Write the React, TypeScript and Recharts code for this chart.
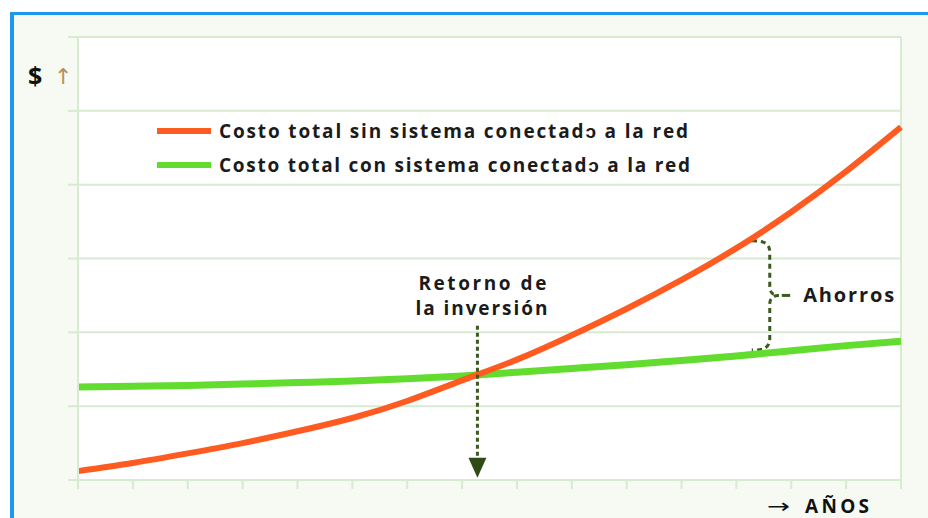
import {
  LineChart,
  Line,
  XAxis,
  YAxis,
  CartesianGrid,
  Legend,
  ReferenceLine,
  ReferenceDot,
  ReferenceArea,
} from "recharts";

// years on the x axis (no labels shown)
const years = [0, 1, 2, 3, 4, 5, 6, 7, 8, 9, 10, 11, 12, 13, 14, 15];
const costoSinSistema = [0.12, 0.23, 0.36, 0.5, 0.66, 0.84, 1.07, 1.35, 1.63, 1.96, 2.32, 2.71, 3.14, 3.63, 4.18, 4.78];
const costoConSistema = [1.26, 1.27, 1.28, 1.3, 1.32, 1.34, 1.37, 1.41, 1.46, 1.51, 1.56, 1.62, 1.68, 1.75, 1.82, 1.88];
const yTicks = [0, 1, 2, 3, 4, 5, 6];

const seriesNames = [
  "Costo total sin sistema conectadↄ a la red",
  "Costo total con sistema conectadↄ a la red",
];
const seriesColors = ["#ff5a1f", "#62dc2e"];

// annotation positions, in data units
const retornoX = 7.28;
const retornoTop = 2.09;
const ahorrosRange = { x1: 12.28, x2: 12.98, y1: 1.76, y2: 3.24 };

const data = years.map((y, i) => ({
  year: y,
  sin: costoSinSistema[i],
  con: costoConSistema[i],
}));

const gridColor = "#d6ebd0";
const annotColor = "#3b5a1d";
const textColor = "#1b1b1b";
const font = "'Open Sans', sans-serif";
const arrowFont = "'DejaVu Sans', sans-serif";

const renderLegend = () => (
  <svg width={560} height={64}>
    {seriesNames.map((name, i) => (
      <g key={name}>
        <line x1={2} x2={56} y1={13 + 34 * i} y2={13 + 34 * i} stroke={seriesColors[i]} strokeWidth={6} />
        <text
          x={64}
          y={20 + 34 * i}
          fontFamily={font}
          fontWeight={700}
          fontSize={19}
          fill={textColor}
          textLength={i === 0 ? 469 : 471}
        >
          {name}
        </text>
      </g>
    ))}
  </svg>
);

const RetornoLabel = ({ cx, cy }: any) => (
  <g fontFamily={font} fontWeight={700} fontSize={19} fill={textColor} textAnchor="middle">
    <text x={cx + 5} y={cy - 36} textLength={128}>Retorno de</text>
    <text x={cx + 4} y={cy - 11} textLength={132}>la inversión</text>
  </g>
);

const ArrowHead = ({ cx, cy }: any) => (
  <path d={`M${cx - 9},${cy - 20} L${cx + 9},${cy - 20} L${cx},${cy} Z`} fill="#2f4a12" />
);

const Brace = ({ x, y, width, height }: any) => {
  const bx = x + 18;
  const cy = y + height / 2;
  return (
    <g fill="none" stroke={annotColor} strokeWidth={3} strokeDasharray="5 4">
      <path d={`M${x},${y} C${x + 12},${y} ${bx},${y + 2} ${bx},${y + 12} L${bx},${cy - 9} Q${bx},${cy} ${bx + 9},${cy}`} />
      <path d={`M${bx + 9},${cy} Q${bx},${cy} ${bx},${cy + 9} L${bx},${y + height - 12} C${bx},${y + height - 2} ${x + 12},${y + height} ${x},${y + height}`} />
      <line x1={bx + 12} x2={x + width} y1={cy} y2={cy} strokeDasharray="none" />
    </g>
  );
};

const AhorrosLabel = ({ viewBox }: any) => (
  <text
    x={viewBox.x + viewBox.width + 13}
    y={viewBox.y + viewBox.height / 2 + 7}
    fontFamily={font}
    fontWeight={700}
    fontSize={20}
    fill={textColor}
    textLength={91}
  >
    Ahorros
  </text>
);

const YLabel = ({ viewBox }: any) => (
  <g>
    <text x={viewBox.x - 49} y={viewBox.y + 48} fontFamily={font} fontSize={25} fontWeight={700} fill="#111">$</text>
    <text x={viewBox.x - 23} y={viewBox.y + 47} fontFamily={arrowFont} fontSize={22} fill="#b58f5e">↑</text>
  </g>
);

const XLabel = ({ viewBox }: any) => (
  <g>
    <text
      x={viewBox.x + viewBox.width - 134}
      y={viewBox.y + 33}
      fontFamily={arrowFont}
      fontSize={20}
      fill="#111"
      textLength={23}
      lengthAdjust="spacingAndGlyphs"
    >
      →
    </text>
    <text x={viewBox.x + viewBox.width - 96} y={viewBox.y + 33} fontFamily={font} fontSize={19} fontWeight={700} fill="#111" textLength={64}>AÑOS</text>
  </g>
);

const EmptyTick = () => <g />;

export default function App() {
  return (
    <div style={{ position: "fixed", left: 0, top: 0, width: 928, height: 518, background: "#fff", overflow: "hidden" }}>
      <div
        style={{
          position: "absolute",
          left: 10,
          top: 12,
          right: 0,
          bottom: 0,
          borderLeft: "4px solid #1a98f3",
          borderTop: "3px solid #1a98f3",
          background: "#f6faf3",
        }}
      />
      <div style={{ position: "absolute", left: 0, top: 0 }}>
        <LineChart width={928} height={518} data={data} margin={{ top: 37, right: 27, bottom: 37, left: 77 }} style={{ fontFamily: font }}>
          <CartesianGrid vertical={false} stroke={gridColor} strokeWidth={2} fill="#ffffff" />
          <XAxis
            dataKey="year"
            type="number"
            domain={[0, 15]}
            ticks={years}
            interval={0}
            height={1}
            tickSize={9}
            tick={EmptyTick}
            stroke={gridColor}
            axisLine={{ stroke: gridColor, strokeWidth: 2 }}
            tickLine={{ stroke: gridColor, strokeWidth: 2 }}
            label={<XLabel />}
          />
          <YAxis
            type="number"
            domain={[0, 6]}
            ticks={yTicks}
            width={1}
            tickSize={10}
            tick={EmptyTick}
            axisLine={{ stroke: gridColor, strokeWidth: 2 }}
            tickLine={{ stroke: gridColor, strokeWidth: 2 }}
            label={<YLabel />}
          />
          <ReferenceLine x={15} stroke={gridColor} strokeWidth={2} />
          <Legend
            layout="vertical"
            verticalAlign="middle"
            align="center"
            content={renderLegend}
            wrapperStyle={{ left: 155, top: 118, width: 560, height: 64 }}
          />
          <Line
            type="natural"
            dataKey="con"
            name={seriesNames[1]}
            stroke={seriesColors[1]}
            strokeWidth={7}
            dot={false}
            isAnimationActive={false}
          />
          <Line
            type="natural"
            dataKey="sin"
            name={seriesNames[0]}
            stroke={seriesColors[0]}
            strokeWidth={6}
            dot={false}
            isAnimationActive={false}
          />
          <ReferenceLine
            segment={[
              { x: retornoX, y: retornoTop },
              { x: retornoX, y: 0.26 },
            ]}
            stroke={annotColor}
            strokeWidth={3}
            strokeDasharray="4 3"
          />
          <ReferenceDot x={retornoX} y={0.03} shape={ArrowHead} />
          <ReferenceDot x={retornoX} y={retornoTop} shape={RetornoLabel} />
          <ReferenceArea
            x1={ahorrosRange.x1}
            x2={ahorrosRange.x2}
            y1={ahorrosRange.y1}
            y2={ahorrosRange.y2}
            shape={Brace}
            label={<AhorrosLabel />}
          />
        </LineChart>
      </div>
    </div>
  );
}
